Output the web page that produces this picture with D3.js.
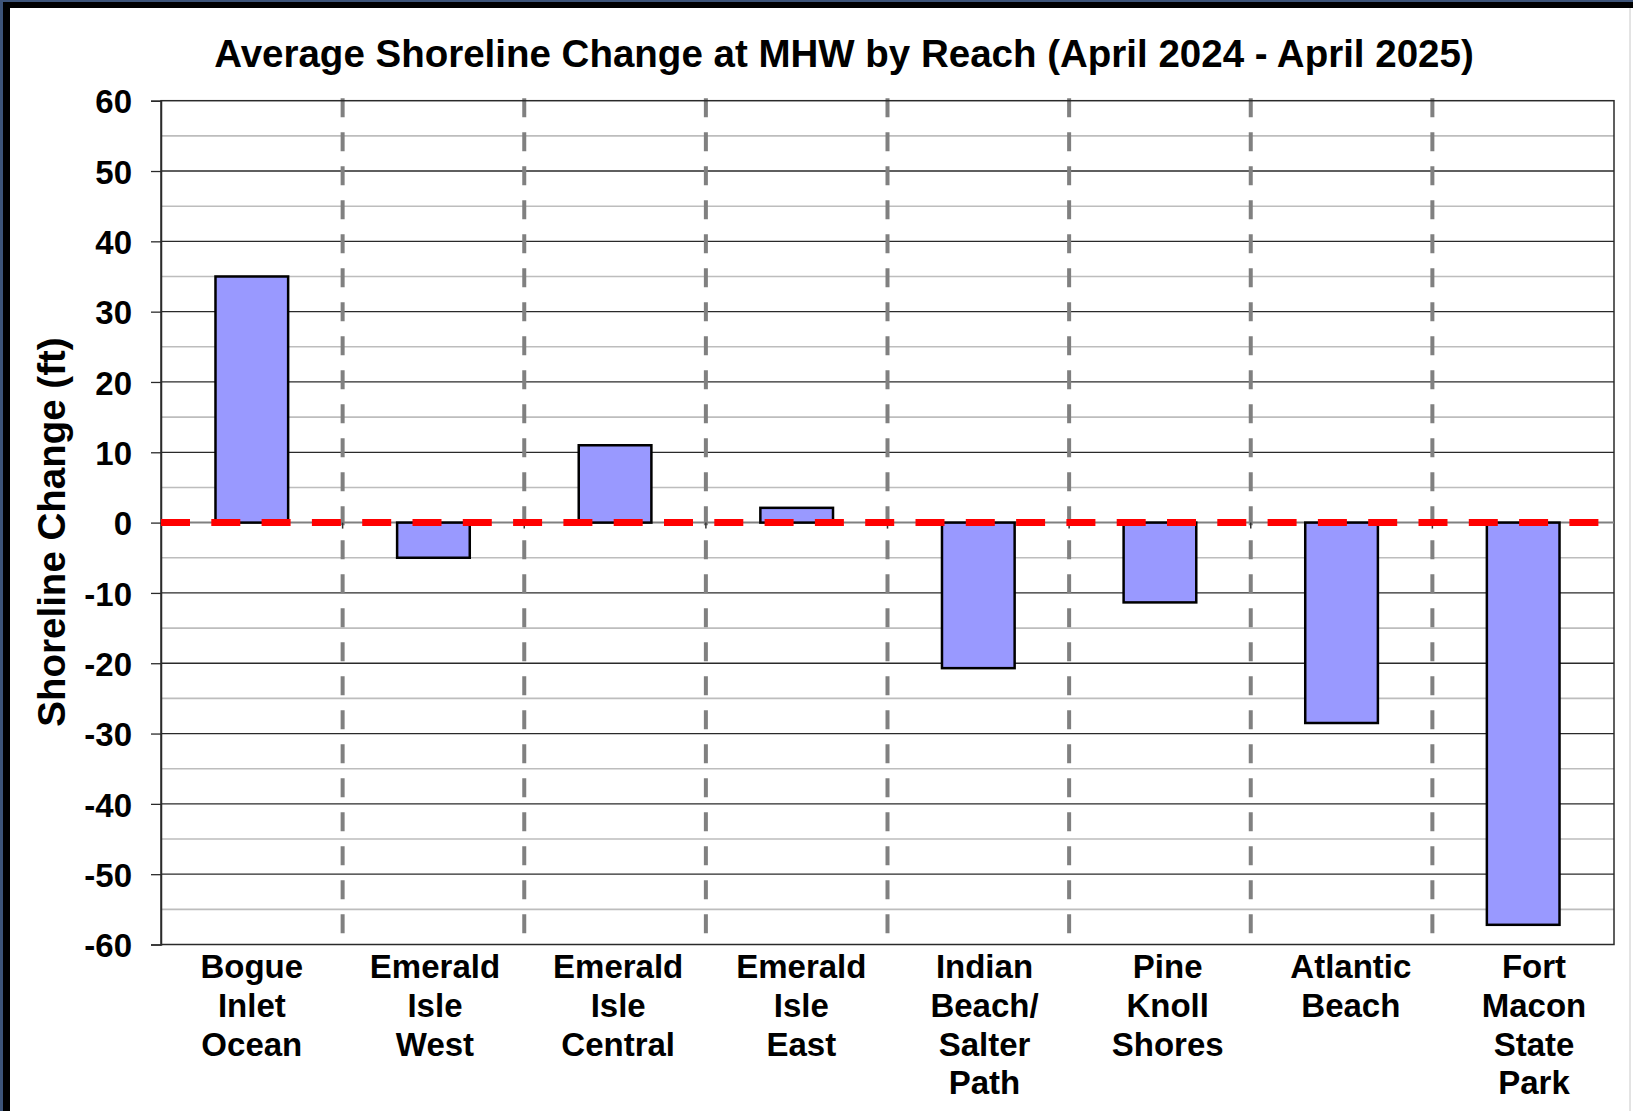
<!DOCTYPE html>
<html>
<head>
<meta charset="utf-8">
<script src="https://cdn.jsdelivr.net/npm/d3@7"></script>
<style>
  html, body { margin: 0; padding: 0; overflow: hidden; background: #3d5479; }
  svg { display: block; }
  text { font-family: "Liberation Sans", Arial, sans-serif; font-weight: bold; fill: #000; }
</style>
</head>
<body>
<svg id="chart" width="1633" height="1111"></svg>
<script>
// ---- data ----
const categories = [
  "Bogue Inlet Ocean",
  "Emerald Isle West",
  "Emerald Isle Central",
  "Emerald Isle East",
  "Indian Beach/ Salter Path",
  "Pine Knoll Shores",
  "Atlantic Beach",
  "Fort Macon State Park"
];
const categoryLines = [
  ["Bogue", "Inlet", "Ocean"],
  ["Emerald", "Isle", "West"],
  ["Emerald", "Isle", "Central"],
  ["Emerald", "Isle", "East"],
  ["Indian", "Beach/", "Salter", "Path"],
  ["Pine", "Knoll", "Shores"],
  ["Atlantic", "Beach"],
  ["Fort", "Macon", "State", "Park"]
];
const shorelineChange = [35.0, -5.0, 11.0, 2.1, -20.7, -11.35, -28.5, -57.2];
const yMajorTicks = [60, 50, 40, 30, 20, 10, 0, -10, -20, -30, -40, -50, -60];
const yMinorTicks = [55, 45, 35, 25, 15, 5, -5, -15, -25, -35, -45, -55];
const titleText = "Average Shoreline Change at MHW by Reach (April 2024 - April 2025)";
const yTitleText = "Shoreline Change (ft)";

// ---- layout ----
const W = 1633, H = 1111;
const plot = { left: 161, right: 1614, top: 100.7, bottom: 944.5 };

const svg = d3.select("#chart");

// background frame
svg.append("rect").attr("x", 0).attr("y", 0).attr("width", W).attr("height", H).attr("fill", "#3d5479");
svg.append("rect").attr("x", 3).attr("y", 2).attr("width", W - 3).attr("height", H - 2).attr("fill", "#000");
svg.append("rect").attr("x", 10).attr("y", 8).attr("width", W - 10).attr("height", H - 8).attr("fill", "#fff");
svg.append("line").attr("x1", 1630).attr("x2", 1630).attr("y1", 8).attr("y2", H)
  .attr("stroke", "#c8c8c8").attr("stroke-width", 1);

// scales
const x = d3.scaleBand().domain(categories).range([plot.left, plot.right]).padding(0);
const xBar = d3.scaleBand().domain(categories).range([plot.left, plot.right])
  .paddingInner(0.6).paddingOuter(0.3);
const xLabel = d3.scalePoint().domain(categories)
  .range([plot.left + x.bandwidth() / 2, plot.right - 80]);
const y = d3.scaleLinear().domain([-60, 60]).range([plot.bottom, plot.top]);

// minor gridlines
svg.append("g").selectAll("line").data(yMinorTicks).join("line")
  .attr("x1", plot.left).attr("x2", plot.right)
  .attr("y1", d => y(d)).attr("y2", d => y(d))
  .attr("stroke", "#bdbdbd").attr("stroke-width", 1.6);

// major gridlines
svg.append("g").selectAll("line").data(yMajorTicks.filter(d => d !== 0 && d !== 60 && d !== -60)).join("line")
  .attr("x1", plot.left).attr("x2", plot.right)
  .attr("y1", d => y(d)).attr("y2", d => y(d))
  .attr("stroke", "#2a2a2a").attr("stroke-width", 1.3);

// vertical dashed separators
const seps = categories.slice(1);
svg.append("g").selectAll("line").data(seps).join("line")
  .attr("x1", d => x(d)).attr("x2", d => x(d))
  .attr("y1", plot.top - 2.5).attr("y2", plot.bottom)
  .attr("stroke", "#808080").attr("stroke-width", 4)
  .attr("stroke-dasharray", "19 15");

// plot border
svg.append("rect")
  .attr("x", plot.left).attr("y", plot.top)
  .attr("width", plot.right - plot.left).attr("height", plot.bottom - plot.top)
  .attr("fill", "none").attr("stroke", "#2a2a2a").attr("stroke-width", 1.5);

// y axis
const yAxis = d3.axisLeft(y).tickValues(yMajorTicks).tickSize(10).tickPadding(19)
  .tickFormat(d => String(d));
const gy = svg.append("g").attr("transform", `translate(${plot.left},0)`).call(yAxis);
gy.select(".domain").attr("stroke", "#2a2a2a").attr("stroke-width", 1.5);
gy.selectAll(".tick line").attr("stroke", "#2a2a2a").attr("stroke-width", 1.3);
gy.selectAll(".tick text")
  .attr("dy", "0.37em")
  .style("font-family", "'Liberation Sans', Arial, sans-serif")
  .style("font-weight", "bold")
  .style("font-size", "33px")
  .attr("fill", "#000");

// zero axis line (gray)
svg.append("line")
  .attr("x1", plot.left).attr("x2", plot.right)
  .attr("y1", y(0)).attr("y2", y(0))
  .attr("stroke", "#808080").attr("stroke-width", 2);

// category tick marks at the zero line
svg.append("g").selectAll("line").data(seps).join("line")
  .attr("x1", d => x(d)).attr("x2", d => x(d))
  .attr("y1", y(0)).attr("y2", y(0) + 6)
  .attr("stroke", "#333").attr("stroke-width", 1.5);

// bars
svg.append("g").selectAll("rect").data(shorelineChange).join("rect")
  .attr("x", (d, i) => xBar(categories[i]))
  .attr("width", xBar.bandwidth())
  .attr("y", d => y(Math.max(0, d)))
  .attr("height", d => Math.abs(y(d) - y(0)))
  .attr("fill", "#9999ff")
  .attr("stroke", "#000").attr("stroke-width", 2.5);

// red dashed zero line
svg.append("line")
  .attr("x1", plot.left).attr("x2", plot.right)
  .attr("y1", y(0)).attr("y2", y(0))
  .attr("stroke", "#ff0000").attr("stroke-width", 7)
  .attr("stroke-dasharray", "29 21.3");

// category labels
const labelG = svg.append("g");
categories.forEach((c, i) => {
  const cx = xLabel(c);
  const t = labelG.append("text")
    .attr("x", cx)
    .attr("y", 978)
    .attr("text-anchor", "middle")
    .style("font-size", "33px");
  categoryLines[i].forEach((ln, j) => {
    t.append("tspan").attr("x", cx).attr("dy", j === 0 ? 0 : 38.8).text(ln);
  });
});

// title
svg.append("text")
  .attr("x", 844).attr("y", 67)
  .attr("text-anchor", "middle")
  .style("font-size", "38.5px")
  .text(titleText);

// y axis title
svg.append("text")
  .attr("transform", `translate(65,532) rotate(-90)`)
  .attr("text-anchor", "middle")
  .style("font-size", "38.5px")
  .text(yTitleText);
</script>
</body>
</html>
